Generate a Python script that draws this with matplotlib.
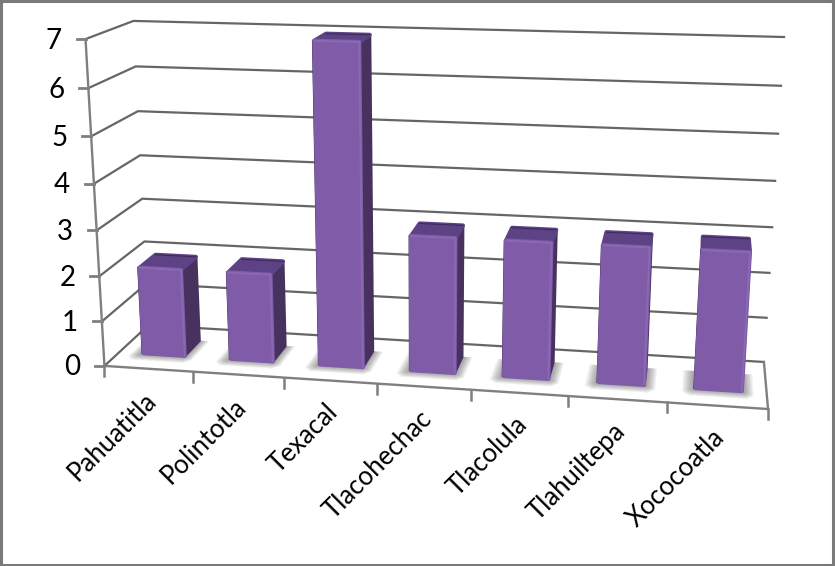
import numpy as np
import matplotlib

matplotlib.use('Agg')
import matplotlib.pyplot as plt
from matplotlib.patches import Polygon, Rectangle

categories = ['Pahuatitla', 'Polintotla', 'Texacal', 'Tlacohechac', 'Tlacolula', 'Tlahuiltepa', 'Xococoatla']
values = [2, 2, 7, 3, 3, 3, 3]
y_ticks = [0, 1, 2, 3, 4, 5, 6, 7]

W, H = 835, 566
GRID = '#666666'
AXIS = '#7f7f7f'
FRONT = '#7f5ba8'
FRONT_LIGHT = '#8a68b3'
SIDE = '#47315f'
TOP = '#5d4385'
DARK = '#2f1f47'

# chart box corners as seen in the picture: (cat, depth, value) -> pixel
# cat runs 0..n, depth 0 front..1 back
n = len(categories)
top = max(y_ticks)
box = [
    ((0, 0, 0), (105, 366)),
    ((0, 0, top), (85, 39)),
    ((n, 0, 0), (768, 409)),
    ((0, 1, 0), (148, 325)),
    ((0, 1, top), (134, 21)),
    ((n, 1, 0), (764, 362)),
    ((n, 1, top), (784, 37)),
]


def fit_camera(pairs):
    rows, rhs = [], []
    for (a, b, c), (u, v) in pairs:
        rows.append([a, b, c, 1, 0, 0, 0, 0, -u * a, -u * b, -u * c])
        rhs.append(u)
        rows.append([0, 0, 0, 0, a, b, c, 1, -v * a, -v * b, -v * c])
        rhs.append(v)
    sol = np.linalg.lstsq(np.array(rows, float), np.array(rhs, float), rcond=None)[0]
    return np.append(sol, 1).reshape(3, 4)


camera = fit_camera(box)


def project(a, b, c):
    p = camera @ np.array([a, b, c, 1.0])
    return p[0] / p[2], p[1] / p[2]


def face(points, **kw):
    ax.add_patch(Polygon([project(*p) for p in points], closed=True, **kw))


def edge(p, q, **kw):
    xs, ys = zip(project(*p), project(*q))
    ax.plot(xs, ys, solid_capstyle='round', **kw)


fig = plt.figure(figsize=(W / 100, H / 100), dpi=100)
ax = fig.add_axes([0, 0, 1, 1])
ax.set_xlim(0, W)
ax.set_ylim(H, 0)
ax.axis('off')

# walls and grid
for v in y_ticks:
    xs, ys = zip(project(0, 0, v), project(0, 1, v), project(n, 1, v))
    ax.plot(xs, ys, color=GRID, lw=1.6, zorder=1, solid_joinstyle='miter')
    x0, y0 = project(0, 0, v)
    ax.plot([x0 - 9, x0], [y0, y0], color=AXIS, lw=2, zorder=1)
    ax.text(x0 - 24, y0 + 1.5, str(v), fontsize=20, family='Lato', ha='right', va='center', color='black')

edge((0, 0, 0), (0, 0, top), color=AXIS, lw=1.7, zorder=1)
xs, ys = zip(project(0, 0, 0), project(n, 0, 0), project(n, 1, 0))
ax.plot(xs, ys, color=AXIS, lw=1.7, zorder=1, solid_joinstyle='miter')

for i in range(n + 1):
    x0, y0 = project(i, 0, 0)
    ax.plot([x0, x0], [y0, y0 + 10], color=AXIS, lw=1.8, zorder=1)

# bars
bar_w = 0.235
d0, d1 = 0.33, 0.7
bevel = 0.05  # the rounded cap sits a little under the true height
layers = 20
for i, (name, val) in enumerate(zip(categories, values)):
    a0, a1 = i + 0.515 - bar_w, i + 0.515 + bar_w
    h = val - bevel

    # soft floor shadow, built up from the outside in, corners cut off
    for t in np.linspace(1, 0, layers):
        l, r, f = a0 - 0.14 * t, a1 + 0.12 * t, d0 - 0.16 * t
        cut = 0.07 * t
        face([(l + cut, f, 0), (r - cut, f, 0), (r, f + cut, 0), (r, d1, 0), (l, d1, 0), (l, f + cut, 0)],
             facecolor='#303030', edgecolor='none', alpha=0.032, zorder=2)

    z = 3 + i * 0.01
    face([(a1, d0, 0), (a1, d1, 0), (a1, d1, h), (a1, d0, h)],
         facecolor=SIDE, edgecolor=SIDE, lw=2.2, joinstyle='round', zorder=z)
    face([(a0, d0, h), (a1, d0, h), (a1, d1, h), (a0, d1, h)],
         facecolor=TOP, edgecolor=TOP, lw=3, joinstyle='round', zorder=z + 0.001)
    edge((a0, d1, h), (a1, d1, h), color='#3d2a5c', lw=0.8, zorder=z + 0.001)

    # dark rim along the left of the front, the face goes over most of it
    x_a, y_a = project(a0, d0, 0)
    x_b, y_b = project(a0, d0, h)
    ax.plot([x_a - 1.4, x_b - 1.4], [y_a, y_b], color=DARK, lw=1.3, zorder=z + 0.002)

    face([(a0, d0, 0), (a1, d0, 0), (a1, d0, h), (a0, d0, h)],
         facecolor=FRONT, edgecolor=FRONT, lw=3, joinstyle='round', zorder=z + 0.003)
    edge((a1, d0, 0), (a1, d0, h), color=FRONT_LIGHT, lw=1.4, zorder=z + 0.004)
    edge((a0, d0, h), (a1, d0, h), color=FRONT_LIGHT, lw=1.4, zorder=z + 0.004)

    # category label hangs off the axis under the bar
    x0, y0 = project(i + 0.5, 0, 0)
    ax.text(x0 - 5, y0 + 19, name, fontsize=18.5, family='Lato', rotation=45, ha='right', va='top',
            rotation_mode='anchor', color='black')

# screenshot frame
ax.add_patch(Rectangle((1.25, 1.25), W - 3.5, H - 2.5, fill=False, edgecolor='#7a7a7a', lw=2.2, zorder=10))

fig.savefig('out.png', dpi=100)
plt.close(fig)
